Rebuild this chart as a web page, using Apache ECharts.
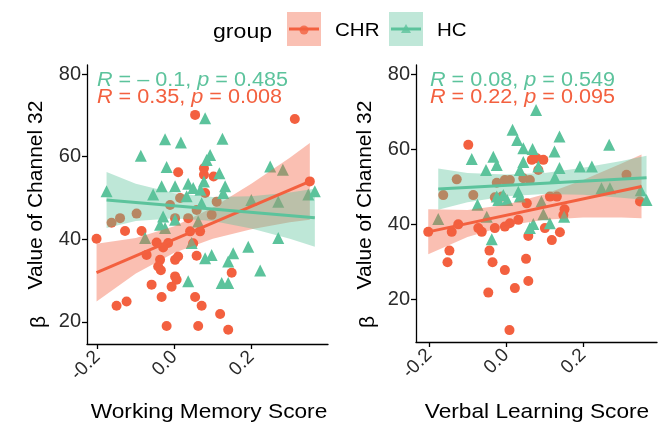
<!DOCTYPE html>
<html><head><meta charset="utf-8">
<script src="https://cdn.jsdelivr.net/npm/echarts@6/dist/echarts.min.js"></script>
<style>html,body{margin:0;padding:0;background:#fff}#c{width:661px;height:431px}</style>
</head><body><div id="c"></div>
<script>
// ---------- data ----------
const groups = ['CHR', 'HC'];
const xTicks = [-0.2, 0.0, 0.2];
const yTicks = [20, 40, 60, 80];
const xTitles = ['Working Memory Score', 'Verbal Learning Score'];
const yTitle = 'Value of Channel 32';
const statTexts = [
  ['R = – 0.1, p = 0.485', 'R = 0.35, p = 0.008'],
  ['R = 0.08, p = 0.549', 'R = 0.22, p = 0.095']
];

// Working memory panel
const wmCHR_x = [0.054,0.313,0.010,0.077,0.077,0.102,0.080,0.352,0.015,-0.011,0.110,0.058,0.097,-0.098,-0.141,-0.163,0.002,0.036,-0.202,-0.128,-0.085,0.041,0.067,-0.046,-0.016,0.049,-0.072,-0.037,-0.042,-0.035,0.002,0.010,0.058,0.002,0.006,-0.007,-0.059,-0.033,-0.150,-0.124,0.054,0.071,0.119,0.149,-0.020,0.062,0.140,-0.029];
const wmCHR_y = [70.1,69.1,56.2,57.2,55.6,55.2,51.2,54.0,50.0,48.3,49.1,47.1,45.9,46.2,45.1,44.0,45.1,45.1,40.1,42.0,42.0,41.9,41.9,39.2,39.1,39.0,36.2,35.0,33.4,32.5,35.0,35.8,36.0,31.0,30.2,28.5,29.0,26.0,23.9,24.9,26.0,23.9,21.9,31.9,19.0,19.0,18.1,38.0];
const wmHC_x = [0.080,-0.024,0.017,0.125,-0.087,0.093,0.084,-0.020,0.117,0.249,0.282,-0.033,0.002,0.036,0.049,0.077,0.132,0.127,-0.176,-0.055,0.032,0.200,0.270,0.348,0.365,0.071,-0.029,0.002,-0.024,-0.037,-0.076,0.045,0.062,0.080,0.097,0.153,0.140,0.192,0.270,0.223,0.036,0.123,0.140,0.068];
const wmHC_y = [69.3,64.2,63.4,64.3,60.2,60.4,59.2,57.5,56.0,57.6,56.8,52.8,52.8,53.4,52.4,54.0,52.8,51.2,51.6,50.8,50.4,49.5,49.1,50.8,51.6,48.7,45.5,44.7,42.7,43.5,40.3,39.1,44.3,35.4,36.2,36.6,34.6,38.2,40.3,32.4,29.8,29.4,29.4,52.0];
const wmCHR_fitX = [-0.202, 0.352];
const wmCHR_fitY = [31.9, 54.0];
const wmHC_fitX = [-0.176, 0.365];
const wmHC_fitY = [49.5, 45.2];
const wmCHR_bandX = [-0.202,-0.1,0.0,0.1,0.2,0.3,0.352];
const wmCHR_bandLo = [24.9,31.7,36.75,40.1,42.4,44.1,44.7];
const wmCHR_bandHi = [38.9,40.3,43.15,47.7,53.4,59.7,63.3];
const wmHC_bandX = [-0.176,-0.1,0.0,0.1,0.2,0.3,0.365];
const wmHC_bandLo = [42.7,44.4,45.1,44.4,42.6,40.1,38.2];
const wmHC_bandHi = [56.3,53.4,51.1,50.2,50.4,51.3,52.2];

// Verbal learning panel
const vlCHR_x = [-0.098,0.067,0.080,0.097,0.084,-0.128,-0.163,-0.085,-0.024,-0.003,0.010,0.062,0.313,0.348,0.114,0.132,-0.029,-0.011,0.152,-0.202,-0.141,-0.124,-0.072,-0.063,-0.029,-0.003,0.010,0.032,0.058,0.101,0.119,0.140,0.149,-0.147,-0.152,-0.043,-0.035,-0.003,0.052,0.058,0.023,-0.046,0.009,0.054,0.045];
const vlCHR_y = [61.1,57.1,57.5,57.1,54.4,51.9,47.7,47.7,51.0,51.7,51.7,51.7,53.1,46.0,47.3,47.3,47.1,47.3,43.9,37.9,37.9,39.9,38.9,37.9,38.9,39.3,40.2,41.1,36.8,38.9,35.7,37.8,42.4,32.9,29.8,32.9,29.8,27.7,30.7,24.8,22.9,21.7,11.7,45.5,52.2];
const vlHC_x = [0.078,0.017,0.029,0.139,0.268,0.045,0.069,0.126,-0.089,-0.033,-0.024,-0.052,0.036,0.084,0.139,0.192,0.223,0.127,-0.024,-0.007,0.032,0.036,0.248,0.270,0.365,-0.074,-0.176,-0.050,0.097,0.151,0.071,0.062,0.114,-0.037,0.003,-0.020,0.350,0.092,0.045];
const vlHC_y = [70.4,65.1,62.4,63.3,61.1,60.2,60.0,59.3,57.3,57.9,55.7,54.4,54.4,55.3,54.9,55.3,55.3,52.4,47.3,47.7,48.6,47.3,49.5,49.5,46.4,45.1,41.3,41.9,42.6,41.9,40.0,38.9,40.2,35.9,46.4,46.4,49.0,46.0,56.5];
const vlCHR_fitX = [-0.202, 0.352];
const vlCHR_fitY = [37.9, 50.0];
const vlHC_fitX = [-0.176, 0.365];
const vlHC_fitY = [49.3, 52.3];
const vlCHR_bandX = [-0.202,-0.1,0.0,0.1,0.2,0.3,0.352];
const vlCHR_bandLo = [31.9,36.5,39.5,41.1,41.7,41.7,41.5];
const vlCHR_bandHi = [43.9,43.7,45.1,47.9,51.7,56.1,58.5];
const vlHC_bandX = [-0.176,-0.1,0.0,0.1,0.2,0.3,0.365];
const vlHC_bandLo = [43.8,45.8,47.4,48.0,47.8,47.0,46.4];
const vlHC_bandHi = [54.8,53.6,53.2,53.6,55.0,56.8,58.2];

// ---------- styling ----------
const RED = '#F3603F', TEAL = '#5CC39C';
const RED_BAND = 'rgba(243,96,63,0.40)', TEAL_BAND = 'rgba(92,195,156,0.40)';
const FONT = '"Liberation Sans", Arial, Helvetica, sans-serif';

const zip = (xs, ys) => xs.map((x, i) => [x, ys[i]]);
const zip3 = (xs, a, b) => xs.map((x, i) => [x, a[i], b[i]]);

function bandSeries(idx, data, fill) {
  return {
    type: 'custom', xAxisIndex: idx, yAxisIndex: idx, z: 3, silent: true,
    encode: { x: 0, y: [1, 2] },
    data: data,
    renderItem: function (params, api) {
      if (params.dataIndexInside !== 0) return null;
      const n = params.dataInsideLength;
      const top = [], bot = [];
      for (let i = 0; i < n; i++) {
        const x = api.value(0, i);
        top.push(api.coord([x, api.value(2, i)]));
        bot.push(api.coord([x, api.value(1, i)]));
      }
      return { type: 'polygon', shape: { points: top.concat(bot.reverse()) }, style: { fill: fill } };
    }
  };
}
function scatter(idx, data, color, symbol, size) {
  return { type: 'scatter', xAxisIndex: idx, yAxisIndex: idx, z: 2, symbol: symbol, symbolSize: size,
    itemStyle: { color: color, opacity: 1 }, data: data, silent: true };
}
function fitLine(idx, data, color) {
  return { type: 'line', xAxisIndex: idx, yAxisIndex: idx, z: 4, showSymbol: false, symbol: 'none',
    lineStyle: { color: color, width: 3 }, data: data, silent: true };
}

const xRanges = [[-0.2268, 0.3992], [-0.2338, 0.3922]];
const yRanges = [[14.63, 82.18], [8.53, 82.4]];
const grids = [
  { left: 87, width: 241, top: 65, height: 279 },
  { left: 416, width: 241, top: 65, height: 277 }
];

const axisLineStyle = { color: '#000', width: 1.3 };
const xAxes = [0, 1].map(i => ({
  type: 'value', gridIndex: i, min: xRanges[i][0], max: xRanges[i][1],
  splitLine: { show: false },
  axisLine: { show: true, onZero: false, lineStyle: axisLineStyle },
  axisTick: { show: true, length: 5, customValues: xTicks, lineStyle: axisLineStyle },
  axisLabel: { customValues: xTicks, rotate: 45, fontSize: 19, color: '#2a2a2a', fontFamily: FONT, margin: 10,
    formatter: v => v.toFixed(1) }
}));
const yAxes = [0, 1].map(i => ({
  type: 'value', gridIndex: i, min: yRanges[i][0], max: yRanges[i][1],
  splitLine: { show: false },
  axisLine: { show: true, onZero: false, lineStyle: axisLineStyle },
  axisTick: { show: true, length: 5, customValues: yTicks, lineStyle: axisLineStyle },
  axisLabel: { customValues: yTicks, fontSize: 20, color: '#2a2a2a', fontFamily: FONT, margin: 6 }
}));

const series = [
  scatter(0, zip(wmCHR_x, wmCHR_y), RED, 'circle', 10),
  scatter(0, zip(wmHC_x, wmHC_y), TEAL, 'triangle', 12),
  bandSeries(0, zip3(wmCHR_bandX, wmCHR_bandLo, wmCHR_bandHi), RED_BAND),
  bandSeries(0, zip3(wmHC_bandX, wmHC_bandLo, wmHC_bandHi), TEAL_BAND),
  fitLine(0, zip(wmCHR_fitX, wmCHR_fitY), RED),
  fitLine(0, zip(wmHC_fitX, wmHC_fitY), TEAL),
  scatter(1, zip(vlCHR_x, vlCHR_y), RED, 'circle', 10),
  scatter(1, zip(vlHC_x, vlHC_y), TEAL, 'triangle', 12),
  bandSeries(1, zip3(vlCHR_bandX, vlCHR_bandLo, vlCHR_bandHi), RED_BAND),
  bandSeries(1, zip3(vlHC_bandX, vlHC_bandLo, vlHC_bandHi), TEAL_BAND),
  fitLine(1, zip(vlCHR_fitX, vlCHR_fitY), RED),
  fitLine(1, zip(vlHC_fitX, vlHC_fitY), TEAL)
];

function statRich(s) {
  return s.replace(/^R/, '{i|R}').replace(/ p /, ' {i|p} ');
}
function statText(x, y, s, color) {
  return { type: 'text', x: x, y: y, scaleX: 1.08, z: 10,
    style: { text: statRich(s), fill: color, fontSize: 20, fontFamily: FONT, verticalAlign: 'middle',
      rich: { i: { fontStyle: 'italic', fontSize: 20, fontFamily: FONT, fill: color } } } };
}

const graphic = [
  // legend
  { type: 'text', x: 213, y: 32, scaleX: 1.1, style: { text: 'group', fontSize: 21, fontFamily: FONT, fill: '#000', verticalAlign: 'middle' } },
  { type: 'rect', shape: { x: 287, y: 12, width: 34, height: 34 }, style: { fill: '#FAC0B3' } },
  { type: 'line', shape: { x1: 289, y1: 29, x2: 319, y2: 29 }, style: { stroke: RED, lineWidth: 3 } },
  { type: 'circle', shape: { cx: 304, cy: 30, r: 4.5 }, style: { fill: RED, opacity: 0.8 } },
  { type: 'text', x: 335, y: 31, scaleX: 1.08, style: { text: groups[0], fontSize: 19, fontFamily: FONT, fill: '#000', verticalAlign: 'middle' } },
  { type: 'rect', shape: { x: 389, y: 12, width: 34, height: 34 }, style: { fill: '#BFE7D8' } },
  { type: 'line', shape: { x1: 391, y1: 29, x2: 421, y2: 29 }, style: { stroke: TEAL, lineWidth: 3 } },
  { type: 'polygon', shape: { points: [[406, 24], [411, 33], [401, 33]] }, style: { fill: TEAL, opacity: 0.8 } },
  { type: 'text', x: 437, y: 31, scaleX: 1.08, style: { text: groups[1], fontSize: 19, fontFamily: FONT, fill: '#000', verticalAlign: 'middle' } },
  // y titles
  { type: 'text', x: 36, y: 195, rotation: Math.PI / 2, style: { text: yTitle, fontSize: 21, fontFamily: FONT, fill: '#000', align: 'center', verticalAlign: 'middle' } },
  { type: 'text', x: 39, y: 322, rotation: Math.PI / 2, style: { text: 'β', fontSize: 21, fontFamily: FONT, fill: '#000', align: 'center', verticalAlign: 'middle' } },
  { type: 'text', x: 365, y: 195, rotation: Math.PI / 2, style: { text: yTitle, fontSize: 21, fontFamily: FONT, fill: '#000', align: 'center', verticalAlign: 'middle' } },
  { type: 'text', x: 368, y: 322, rotation: Math.PI / 2, style: { text: 'β', fontSize: 21, fontFamily: FONT, fill: '#000', align: 'center', verticalAlign: 'middle' } },
  // x titles
  { type: 'text', x: 209, y: 412, scaleX: 1.08, style: { text: xTitles[0], fontSize: 21, fontFamily: FONT, fill: '#000', align: 'center', verticalAlign: 'middle' } },
  { type: 'text', x: 537, y: 412, scaleX: 1.08, style: { text: xTitles[1], fontSize: 21, fontFamily: FONT, fill: '#000', align: 'center', verticalAlign: 'middle' } },
  // stats
  statText(97, 80, statTexts[0][0], TEAL),
  statText(97, 97, statTexts[0][1], RED),
  statText(430, 80, statTexts[1][0], TEAL),
  statText(430, 97, statTexts[1][1], RED)
];

const chart = echarts.init(document.getElementById('c'), null, { renderer: 'canvas' });
chart.setOption({
  animation: false,
  backgroundColor: '#fff',
  textStyle: { fontFamily: FONT },
  grid: grids,
  xAxis: xAxes,
  yAxis: yAxes,
  series: series,
  graphic: graphic
});
</script></body></html>
